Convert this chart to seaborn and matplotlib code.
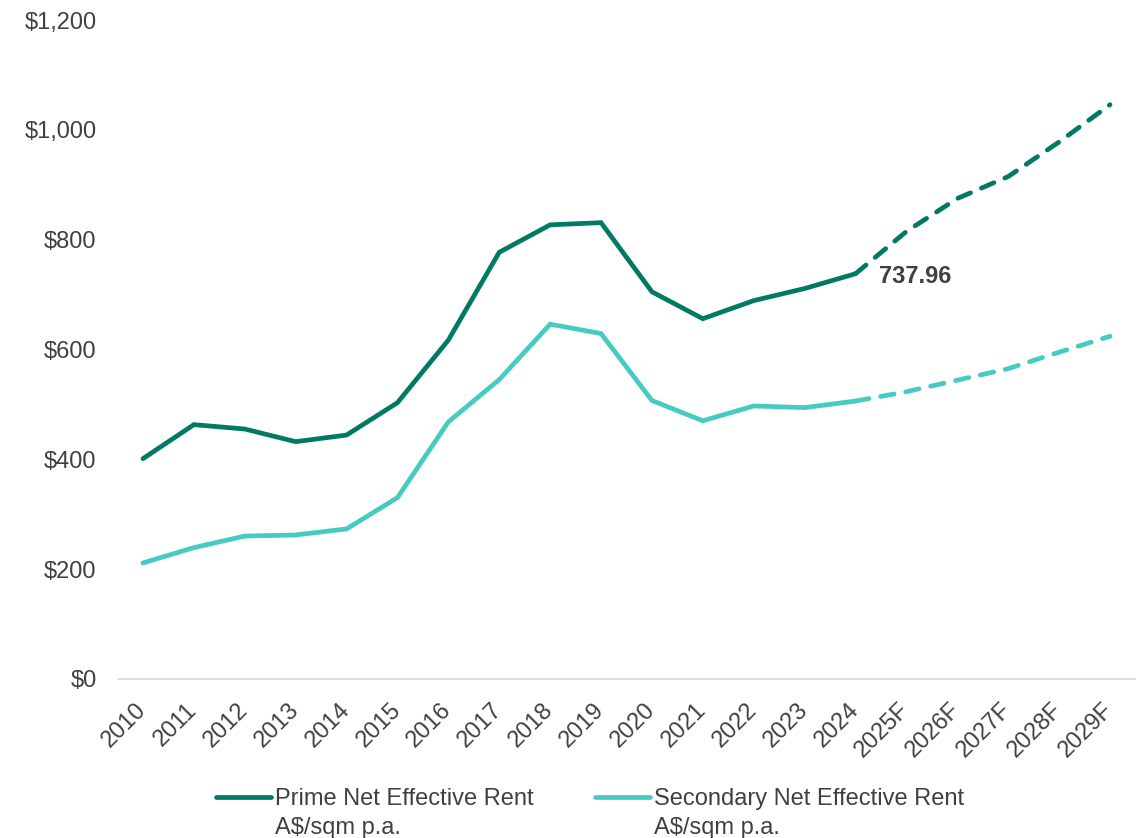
import numpy as np
import pandas as pd
import matplotlib
matplotlib.use("Agg")
import matplotlib.pyplot as plt
import seaborn as sns
from matplotlib.ticker import FuncFormatter
from matplotlib.lines import Line2D

years = ['2010', '2011', '2012', '2013', '2014', '2015', '2016', '2017', '2018', '2019',
         '2020', '2021', '2022', '2023', '2024', '2025F', '2026F', '2027F', '2028F', '2029F']
prime = [401, 463, 455, 432, 444, 503, 617, 777, 827, 831,
         705, 656, 689, 711, 737.96, 815, 875, 915, 978, 1046]
secondary = [211, 239, 260, 262, 273, 330, 468, 545, 646, 629,
             507, 470, 497, 494, 506, 523, 544, 565, 595, 624]
last_actual = '2024'
annot_value = 737.96
series_names = ['Prime Net Effective Rent', 'Secondary Net Effective Rent']
unit_label = 'A$/sqm p.a.'

PRIME_C = '#007A62'
SEC_C = '#45CBC2'
TEXT_C = '#404040'
W, H = 1143, 838

sns.set_theme(style='white')
plt.rcParams['font.family'] = ['Liberation Sans', 'DejaVu Sans']

fig = plt.figure(figsize=(W / 100, H / 100), dpi=100)
ax = fig.add_axes([0.1028, 0.19, 0.8906, 0.786])

pos = np.arange(len(years))
split = years.index(last_actual)
df = pd.DataFrame({'pos': pos, 'prime': prime, 'secondary': secondary})
act = df.iloc[:split + 1]
fc = df.iloc[split:]

lw = 3.4
dash = (2.9, 2.5)
for col, c in [('secondary', SEC_C), ('prime', PRIME_C)]:
    sns.lineplot(data=act, x='pos', y=col, ax=ax, color=c, linewidth=lw,
                 solid_capstyle='round', solid_joinstyle='miter')
    sns.lineplot(data=fc, x='pos', y=col, ax=ax, color=c, linewidth=lw,
                 linestyle=(0, dash), dash_capstyle='round')

ax.annotate(f'{annot_value:.2f}', xy=(split, annot_value), xytext=(17, -2),
            textcoords='offset points', ha='left', va='center',
            fontsize=17, fontweight='bold', color=TEXT_C)

ax.set_xlim(-0.5, len(years) - 0.5)
ax.set_ylim(0, 1200)
ax.set_yticks(np.arange(0, 1201, 200))
ax.yaxis.set_major_formatter(FuncFormatter(lambda v, p: f'${v:,.0f}'))
ax.set_xticks(pos)
ax.set_xticklabels(years, rotation=45, ha='right', va='center', rotation_mode='anchor')
ax.tick_params(axis='both', length=0, labelsize=17, labelcolor=TEXT_C)
ax.tick_params(axis='y', pad=15)
ax.tick_params(axis='x', pad=20)
ax.set_xlabel('')
ax.set_ylabel('')
ax.grid(False)
for s in ['left', 'right', 'top']:
    ax.spines[s].set_visible(False)
ax.spines['bottom'].set_color('#D9D9D9')
ax.spines['bottom'].set_linewidth(1.2)

handles = [Line2D([], [], color=PRIME_C, linewidth=lw, solid_capstyle='round'),
           Line2D([], [], color=SEC_C, linewidth=lw, solid_capstyle='round')]
leg = fig.legend(handles, series_names, loc='center',
                 bbox_to_anchor=(590 / W, 1 - 799 / H), ncol=2, frameon=False,
                 fontsize=17, handlelength=2.35, handletextpad=0.15, columnspacing=2.6,
                 labelcolor=TEXT_C, borderpad=0)

fig.canvas.draw()
for t in leg.get_texts():
    bb = t.get_window_extent()
    fig.text(bb.x0 / W, (bb.y0 - 29) / H, unit_label, ha='left', va='bottom',
             fontsize=17, color=TEXT_C)

fig.savefig('out.png', dpi=100)
